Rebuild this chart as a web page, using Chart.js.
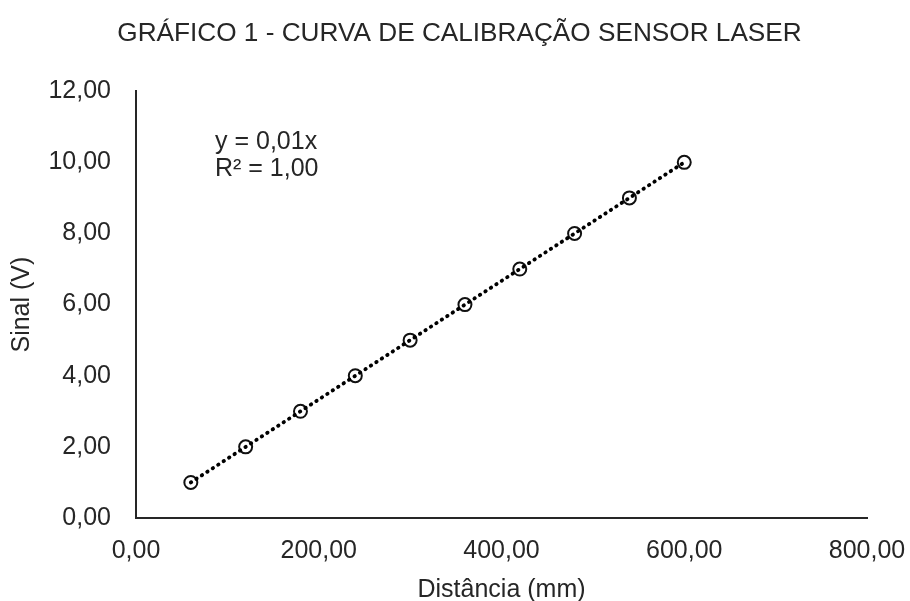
<!DOCTYPE html>
<html>
<head>
<meta charset="utf-8">
<script src="https://cdn.jsdelivr.net/npm/chart.js@4/dist/chart.umd.min.js"></script>
<style>
  html, body { margin: 0; padding: 0; background: #fff; }
</style>
</head>
<body>
<canvas id="myChart" width="910" height="601"></canvas>
<script>
// medições de calibração
const distancia = [60, 120, 180, 240, 300, 360, 420, 480, 540, 600];
const sinal = [1, 2, 3, 4, 5, 6, 7, 8, 9, 10];
const xTicks = [0, 200, 400, 600, 800];
const yTicks = [0, 2, 4, 6, 8, 10, 12];
const equacao = ['y = 0,01x', 'R² = 1,00'];

const corTexto = '#262626';
const fonte = 'Liberation Sans, Arial, sans-serif';

// linha de tendência linear pela origem (mínimos quadrados)
let sxy = 0, sxx = 0;
distancia.forEach((x, i) => { sxy += x * sinal[i]; sxx += x * x; });
const incl = sxy / sxx;
const xMin = Math.min(...distancia), xMax = Math.max(...distancia);
const tendencia = [{x: xMin, y: incl * xMin}, {x: xMax, y: incl * xMax}];

const pontos = distancia.map((x, i) => ({x: x, y: sinal[i]}));

const fmt = v => Number(v).toFixed(2).replace('.', ',');

const textoEquacao = {
  id: 'textoEquacao',
  afterDatasetsDraw(chart) {
    const {ctx, chartArea} = chart;
    ctx.save();
    ctx.font = '25px ' + fonte;
    ctx.fillStyle = corTexto;
    ctx.textBaseline = 'middle';
    ctx.textAlign = 'left';
    ctx.fillText(equacao[0], chartArea.left + 79, chartArea.top + 51);
    ctx.fillText(equacao[1], chartArea.left + 79, chartArea.top + 78);
    ctx.restore();
  }
};

var ctx = document.getElementById('myChart');

var myChart = new Chart(ctx, {
  type: 'scatter',
  data: {
    datasets: [{
      type: 'line',
      data: tendencia,
      order: 0,
      showLine: true,
      fill: false,
      borderColor: '#000',
      borderWidth: 3.8,
      borderDash: [0.5, 6],
      borderCapStyle: 'round',
      pointRadius: 0
    }, {
      data: pontos,
      order: 1,
      pointStyle: 'circle',
      pointRadius: 6.5,
      pointBorderWidth: 2,
      pointBackgroundColor: 'rgba(0,0,0,0)',
      pointBorderColor: '#111'
    }]
  },
  options: {
    responsive: false,
    animation: false,
    layout: {
      padding: { left: 9, right: 0, top: 0, bottom: 0 }
    },
    scales: {
      x: {
        type: 'linear',
        min: xTicks[0],
        max: xTicks[xTicks.length - 1],
        afterBuildTicks: s => { s.ticks = xTicks.map(v => ({value: v})); },
        afterFit: s => { s.height = 83; s.paddingLeft = 0; s.paddingRight = 0; },
        grid: { drawOnChartArea: false, drawTicks: false },
        border: { display: true, color: '#262626', width: 2 },
        ticks: {
          padding: 21,
          color: corTexto,
          font: { family: fonte, size: 25, lineHeight: 1 },
          callback: v => fmt(v)
        },
        title: {
          display: true,
          text: 'Distância (mm)',
          color: corTexto,
          font: { family: fonte, size: 25, lineHeight: 1 },
          padding: { top: 0, bottom: -2 }
        }
      },
      y: {
        type: 'linear',
        min: yTicks[0],
        max: yTicks[yTicks.length - 1],
        afterBuildTicks: s => { s.ticks = yTicks.map(v => ({value: v})); },
        afterFit: s => { s.width = 127; },
        grid: { drawOnChartArea: false, drawTicks: false },
        border: { display: true, color: '#262626', width: 2 },
        ticks: {
          padding: 25,
          color: corTexto,
          font: { family: fonte, size: 25, lineHeight: 1 },
          callback: v => fmt(v)
        },
        title: {
          display: true,
          text: 'Sinal (V)',
          color: corTexto,
          font: { family: fonte, size: 25, lineHeight: 1 },
          padding: { top: 0.5, bottom: 0 }
        }
      },
      // margem direita vazia
      margem: {
        type: 'linear',
        position: 'right',
        afterFit: s => { s.width = 43; },
        grid: { display: false },
        border: { display: false },
        ticks: { display: false }
      }
    },
    plugins: {
      legend: { display: false },
      tooltip: { enabled: false },
      title: {
        display: true,
        text: 'GRÁFICO 1 - CURVA DE CALIBRAÇÃO SENSOR LASER',
        color: corTexto,
        font: { family: fonte, size: 26.2, weight: 'normal', lineHeight: 1 },
        padding: { top: 21, bottom: 44 }
      }
    }
  },
  plugins: [textoEquacao]
});
</script>
</body>
</html>
